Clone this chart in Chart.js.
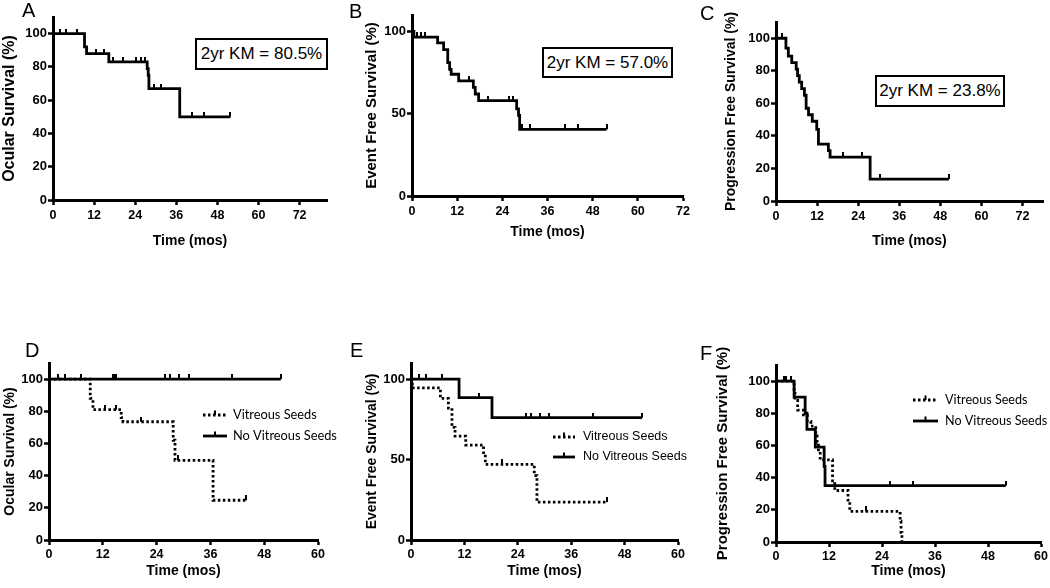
<!DOCTYPE html>
<html>
<head>
<meta charset="utf-8">
<script src="https://cdn.jsdelivr.net/npm/chart.js@4.4.1/dist/chart.umd.min.js"></script>
<style>
  body { margin:0; width:1050px; height:588px; background:#fff; position:relative; overflow:hidden;
         font-family:'Liberation Sans', Arial, sans-serif; color:#000; }
  canvas { position:absolute; }
  .tag { position:absolute; font-size:20px; line-height:1; }
  .km { position:absolute; box-sizing:border-box; border:2.5px solid #000; font-size:17px;
        display:flex; align-items:center; justify-content:center; background:#fff; }
</style>
</head>
<body>
<canvas id="pA" width="345" height="260" style="left:0;top:0"></canvas>
<canvas id="pB" width="345" height="260" style="left:355px;top:0"></canvas>
<canvas id="pC" width="345" height="260" style="left:705px;top:0"></canvas>
<canvas id="pD" width="345" height="258" style="left:0;top:330px"></canvas>
<canvas id="pE" width="345" height="258" style="left:355px;top:330px"></canvas>
<canvas id="pF" width="345" height="258" style="left:705px;top:330px"></canvas>

<div class="tag" style="left:22px;top:0px">A</div>
<div class="tag" style="left:349px;top:1px">B</div>
<div class="tag" style="left:700px;top:3px">C</div>
<div class="tag" style="left:25px;top:340px">D</div>
<div class="tag" style="left:350px;top:340px">E</div>
<div class="tag" style="left:700px;top:343px">F</div>

<div class="km" style="left:195px;top:38px;width:133px;height:32px">2yr KM = 80.5%</div>
<div class="km" style="left:542px;top:47px;width:131px;height:31px">2yr KM = 57.0%</div>
<div class="km" style="left:875px;top:75px;width:130px;height:32px">2yr KM = 23.8%</div>

<script>
// tick labels
var xTicksLong = [0, 12, 24, 36, 48, 60, 72];
var xTicksShort = [0, 12, 24, 36, 48, 60];
var yTicksPct = [0, 20, 40, 60, 80, 100];
var yTicksHalf = [0, 50, 100];
var seriesNames = ['Vitreous Seeds', 'No Vitreous Seeds'];

// A - ocular survival, all eyes
var aTime = [0, 9.2, 9.8, 16.3, 27.5, 27.8, 28.0, 37.0, 51.8];
var aSurv = [100, 92, 88, 83, 79, 75, 67, 50, 50];
var aCens = [1.9, 3.7, 7.1, 12.6, 14.8, 17.5, 20.4, 24.1, 25.8, 26.9, 29.4, 31.4, 40.7, 44.0, 51.8];

// B - event free survival
var bTime = [0, 0.5, 6.8, 8.4, 9.5, 10.0, 10.4, 12.4, 16.3, 16.8, 17.7, 27.8, 28.3, 28.6, 51.7];
var bSurv = [100, 96.6, 93, 89, 81, 77, 74, 70, 66, 62, 58, 53, 49, 40.5, 40.5];
var bCens = [1.3, 2.5, 3.5, 15.2, 20.3, 25.8, 26.9, 29.2, 31.4, 40.6, 44.0, 51.7];

// C - progression free survival
var cTime = [0, 2.9, 3.6, 4.6, 5.9, 6.3, 6.8, 7.5, 8.3, 8.8, 9.5, 10.6, 11.9, 12.4, 15.3, 15.8, 27.5, 50.5];
var cSurv = [100, 94, 89, 85, 81, 77, 73, 69, 65, 57, 53, 49, 44, 35, 31, 27, 13.5, 13.5];
var cCens = [1.7, 19.5, 25.1, 30.5, 50.5];

// D - ocular survival by vitreous seeds
var dSeedTime = [0, 9.2, 9.8, 16.1, 16.5, 27.7, 28.1, 36.6, 44.0];
var dSeedSurv = [100, 88, 81, 76, 73.5, 62, 49.5, 24.7, 24.7];
var dSeedCens = [12.4, 15.0, 20.6, 28.8, 44.0];
var dNoTime = [0, 51.7];
var dNoSurv = [100, 100];
var dNoCens = [2.0, 3.6, 7.1, 14.3, 14.6, 15.0, 25.9, 26.9, 29.1, 31.2, 40.8, 51.7];

// E - event free survival by vitreous seeds
var eSeedTime = [0, 0.3, 6.6, 8.4, 9.2, 9.9, 12.3, 16.3, 16.7, 27.7, 28.3, 44.0];
var eSeedSurv = [100, 94.5, 88, 82, 70, 64.5, 59, 53, 47, 40, 23.5, 23.5];
var eSeedCens = [20.4, 44.0];
var eNoTime = [0, 10.8, 18.2, 51.9];
var eNoSurv = [100, 88.5, 76, 76];
var eNoCens = [1.9, 3.4, 7.0, 15.2, 25.8, 26.9, 29.1, 31.1, 40.8, 51.9];

// F - progression free survival by vitreous seeds
var fSeedTime = [0, 4.1, 4.3, 4.9, 6.2, 7.1, 7.9, 9.0, 9.3, 9.6, 10.0, 12.8, 13.3, 16.3, 16.7, 28.1, 28.3, 28.5];
var fSeedSurv = [100, 94, 88, 82, 79, 75, 72, 66, 62, 56, 51, 38, 32, 26, 19, 13, 6, 0];
var fSeedCens = [1.9, 20.3];
var fNoTime = [0, 4.1, 6.6, 7.0, 8.9, 10.9, 11.1, 52.0];
var fNoSurv = [100, 90, 80, 70, 59, 47, 35, 35];
var fNoCens = [2.3, 3.4, 25.9, 31.1, 52.0];

Chart.defaults.font.family = "'Liberation Sans', Arial, sans-serif";
Chart.defaults.color = '#000';

// censor mark: short stroke standing on top of the curve
var censorMark = document.createElement('canvas');
censorMark.width = 2; censorMark.height = 10;
censorMark.getContext('2d').fillRect(0, 0, 2, 5);

function pts(t, s) {
  return t.map(function (v, i) { return { x: v, y: s[i] }; });
}
// survival level of the step curve at time x
function levelAt(t, s, x) {
  var y = s[0];
  for (var i = 0; i < t.length; i++) if (t[i] <= x) y = s[i];
  return y;
}
function curve(label, t, s, dotted) {
  return { label: label, data: pts(t, s), showLine: true, stepped: true,
           borderColor: '#000', borderWidth: 2.8, borderDash: dotted ? [2.5, 2.5] : [],
           pointRadius: 0, fill: false };
}
function censored(t, s, c) {
  return { data: c.map(function (x) { return { x: x, y: levelAt(t, s, x) }; }),
           showLine: false, pointStyle: censorMark, pointRadius: 3,
           borderColor: '#000', backgroundColor: '#000' };
}

// small key drawn inside the plot, as in the figure
var keyPlugin = {
  id: 'key',
  afterDraw: function (chart, args, o) {
    if (!o.items) return;
    var ctx = chart.ctx;
    ctx.save();
    o.items.forEach(function (idx, i) {
      var ds = chart.data.datasets[idx];
      var y = o.y + i * o.gap;
      ctx.strokeStyle = '#000';
      ctx.lineWidth = ds.borderWidth;
      ctx.setLineDash(ds.borderDash || []);
      ctx.beginPath(); ctx.moveTo(o.x, y); ctx.lineTo(o.x + o.len, y); ctx.stroke();
      ctx.setLineDash([]);
      ctx.fillStyle = '#000';
      ctx.fillRect(o.x + o.len / 2 - 1, y - 4.5, 2, 4.5);
      ctx.font = o.font;
      ctx.textBaseline = 'middle';
      ctx.fillText(ds.label, o.x + o.len + o.textGap, y);
    });
    ctx.restore();
  }
};

function panel(id, p, datasets, key) {
  var lh = p.ySize * 1.2;
  new Chart(document.getElementById(id), {
    type: 'scatter',
    data: { datasets: datasets },
    plugins: [keyPlugin],
    options: {
      responsive: false,
      animation: false,
      layout: { padding: { left: 0, top: p.padTop, right: p.padRight, bottom: 0 } },
      plugins: { legend: { display: false }, tooltip: { enabled: false }, key: key || {} },
      scales: {
        x: {
          type: 'linear', min: 0, max: p.xMax,
          afterBuildTicks: function (s) { s.ticks = p.xTicks.map(function (v) { return { value: v }; }); },
          afterFit: function (s) { s.height = p.xH; },
          grid: { drawOnChartArea: false, drawTicks: true, tickLength: 5, tickWidth: 2.5, tickColor: '#000' },
          border: { display: true, color: '#000', width: 3 },
          ticks: { color: '#000', font: { size: 12.5, weight: 'bold' }, padding: p.xTickPad, maxRotation: 0, autoSkip: false },
          title: { display: true, text: 'Time (mos)', color: '#000', font: { size: 14, weight: 'bold' },
                   padding: { top: 0, bottom: p.xTitlePad } }
        },
        y: {
          type: 'linear', min: 0, max: 110,
          afterBuildTicks: function (s) { s.ticks = p.yTicks.map(function (v) { return { value: v }; }); },
          afterFit: function (s) { s.width = p.yW; },
          grid: { drawOnChartArea: false, drawTicks: true, tickLength: 5, tickWidth: 2.5, tickColor: '#000' },
          border: { display: true, color: '#000', width: 3 },
          ticks: { color: '#000', font: { size: 13, weight: 'bold' }, padding: 1 },
          title: { display: true, text: p.yTitle, color: '#000', font: { size: p.ySize, weight: 'bold' },
                   padding: { top: p.yTitleX - lh / 2, bottom: 0 } }
        }
      }
    }
  });
}

panel('pA', { padTop: 17, padRight: 18, yW: 53, xH: 60, xMax: 80, xTicks: xTicksLong, yTicks: yTicksPct,
              xTickPad: 3, xTitlePad: 10.6, yTitle: 'Ocular Survival (%)', ySize: 16, yTitleX: 10 },
  [curve('Ocular Survival', aTime, aSurv, false), censored(aTime, aSurv, aCens)]);

panel('pB', { padTop: 15, padRight: 17, yW: 57, xH: 64, xMax: 72, xTicks: xTicksLong, yTicks: yTicksHalf,
              xTickPad: 3, xTitlePad: 19.6, yTitle: 'Event Free Survival (%)', ySize: 15, yTitleX: 17 },
  [curve('Event Free Survival', bTime, bSurv, false), censored(bTime, bSurv, bCens)]);

panel('pC', { padTop: 22, padRight: 7, yW: 71, xH: 59, xMax: 78, xTicks: xTicksLong, yTicks: yTicksPct,
              xTickPad: 3, xTitlePad: 10.6, yTitle: 'Progression Free Survival (%)', ySize: 14, yTitleX: 26 },
  [curve('Progression Free Survival', cTime, cSurv, false), censored(cTime, cSurv, cCens)]);

panel('pD', { padTop: 33, padRight: 27, yW: 49, xH: 48, xMax: 60, xTicks: xTicksShort, yTicks: yTicksPct,
              xTickPad: 2, xTitlePad: 8.6, yTitle: 'Ocular Survival (%)', ySize: 14, yTitleX: 10 },
  [curve(seriesNames[0], dSeedTime, dSeedSurv, true), censored(dSeedTime, dSeedSurv, dSeedCens),
   curve(seriesNames[1], dNoTime, dNoSurv, false), censored(dNoTime, dNoSurv, dNoCens)],
  { items: [0, 2], x: 203, y: 85, gap: 21, len: 24, textGap: 6, font: "12.8px Lato, sans-serif" });

panel('pE', { padTop: 33, padRight: 22, yW: 56, xH: 48, xMax: 60, xTicks: xTicksShort, yTicks: yTicksHalf,
              xTickPad: 2, xTitlePad: 8.6, yTitle: 'Event Free Survival (%)', ySize: 14, yTitleX: 17 },
  [curve(seriesNames[0], eSeedTime, eSeedSurv, true), censored(eSeedTime, eSeedSurv, eSeedCens),
   curve(seriesNames[1], eNoTime, eNoSurv, false), censored(eNoTime, eNoSurv, eNoCens)],
  { items: [0, 2], x: 198, y: 107, gap: 20, len: 22, textGap: 8, font: "12.5px 'Liberation Sans', Arial, sans-serif" });

panel('pF', { padTop: 35, padRight: 8, yW: 71, xH: 46, xMax: 60, xTicks: xTicksShort, yTicks: yTicksPct,
              xTickPad: 2, xTitlePad: 8.6, yTitle: 'Progression Free Survival (%)', ySize: 15, yTitleX: 18 },
  [curve(seriesNames[0], fSeedTime, fSeedSurv, true), censored(fSeedTime, fSeedSurv, fSeedCens),
   curve(seriesNames[1], fNoTime, fNoSurv, false), censored(fNoTime, fNoSurv, fNoCens)],
  { items: [0, 2], x: 208, y: 70, gap: 21, len: 25, textGap: 7, font: "12.6px Lato, sans-serif" });
</script>
</body>
</html>
